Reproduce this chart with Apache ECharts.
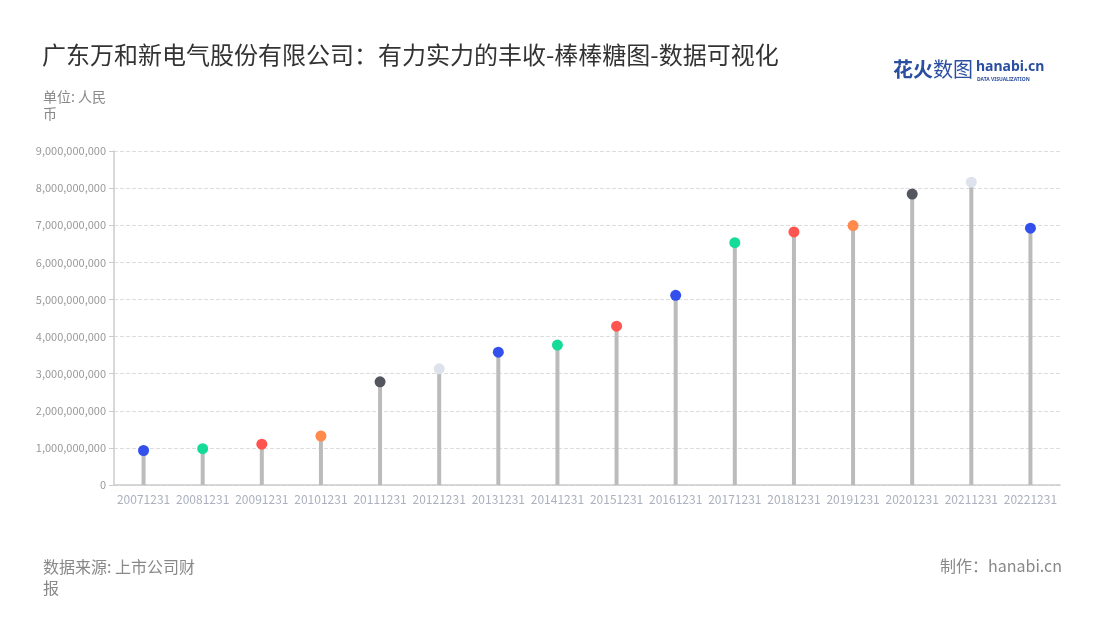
<!DOCTYPE html>
<html>
<head>
<meta charset="utf-8">
<script src="https://cdn.jsdelivr.net/npm/echarts@6/dist/echarts.min.js"></script>
<style>html,body{margin:0;padding:0;background:#fff}#c{width:1100px;height:620px}</style>
</head>
<body>
<div id="c"></div>
<script>
const categories = ['20071231','20081231','20091231','20101231','20111231','20121231','20131231','20141231','20151231','20161231','20171231','20181231','20191231','20201231','20211231','20221231'];
const revenue = [930000000,980000000,1100000000,1320000000,2780000000,3130000000,3580000000,3770000000,4280000000,5110000000,6530000000,6820000000,6990000000,7840000000,8160000000,6920000000];
const dotColors = ['#3450ec','#14dc98','#ff5550','#ff8a4c','#53555f','#dde2ec','#3450ec','#14dc98','#ff5550','#3450ec','#14dc98','#ff5550','#ff8a4c','#53555f','#dde2ec','#3450ec'];

const chart = echarts.init(document.getElementById('c'));
const font = '"Noto Sans CJK SC","Noto Sans",sans-serif';
chart.setOption({
  backgroundColor: '#fff',
  textStyle: { fontFamily: font },
  grid: { left: 114, right: 40, top: 151, bottom: 135 },
  title: [
    { text: '广东万和新电气股份有限公司：有力实力的丰收-棒棒糖图-数据可视化', left: 37, top: 38,
      textStyle: { fontSize: 24, fontWeight: 'normal', color: '#333', fontFamily: font } },
    { text: '单位: 人民\n币', left: 38, top: 83,
      textStyle: { fontSize: 14, fontWeight: 'normal', color: '#888', lineHeight: 17, fontFamily: font } },
    { text: '数据来源: 上市公司财\n报', left: 38, top: 551,
      textStyle: { fontSize: 16, fontWeight: 'normal', color: '#888', lineHeight: 21, fontFamily: font } },
    { text: '制作：hanabi.cn', right: 33, top: 553,
      textStyle: { fontSize: 16, fontWeight: 'normal', color: '#888', fontFamily: font } }
  ],
  graphic: [
    { type: 'text', left: 893, top: 59, style: { text: '花火', fill: '#2a4ea0', font: 'bold 20px "Noto Sans CJK SC"' } },
    { type: 'text', left: 933, top: 59, style: { text: '数图', fill: '#2a4ea0', font: '20px "Noto Sans CJK SC"' } },
    { type: 'text', left: 976, top: 60, style: { text: 'hanabi.cn', fill: '#2a4ea0', font: 'bold 14px "Noto Sans"' } },
    { type: 'text', left: 977, top: 77, style: { text: 'DATA VISUALIZATION', fill: '#2a4ea0', font: 'bold 5px "Noto Sans"' } }
  ],
  xAxis: {
    type: 'category', data: categories,
    axisLine: { lineStyle: { color: '#ccc', width: 1.5 } },
    axisTick: { alignWithLabel: true, lineStyle: { color: '#ccc' } },
    axisLabel: { color: '#aab0bd', fontSize: 12, interval: 0, margin: 8 }
  },
  yAxis: {
    type: 'value', min: 0, max: 9000000000, interval: 1000000000,
    axisLine: { show: true, lineStyle: { color: '#ccc', width: 1.5 } },
    axisTick: { show: true, lineStyle: { color: '#ccc' } },
    axisLabel: { color: '#999', fontSize: 11,
      formatter: v => v.toString().replace(/\B(?=(\d{3})+(?!\d))/g, ',') },
    splitLine: { lineStyle: { type: 'dashed', color: '#ddd' } }
  },
  series: [
    { type: 'bar', data: revenue, barWidth: 4, itemStyle: { color: '#bbb' }, silent: true },
    { type: 'scatter', data: revenue.map((v, i) => ({ value: v, itemStyle: { color: dotColors[i], opacity: 1 } })),
      symbolSize: 11, z: 5 }
  ]
});
</script>
</body>
</html>
